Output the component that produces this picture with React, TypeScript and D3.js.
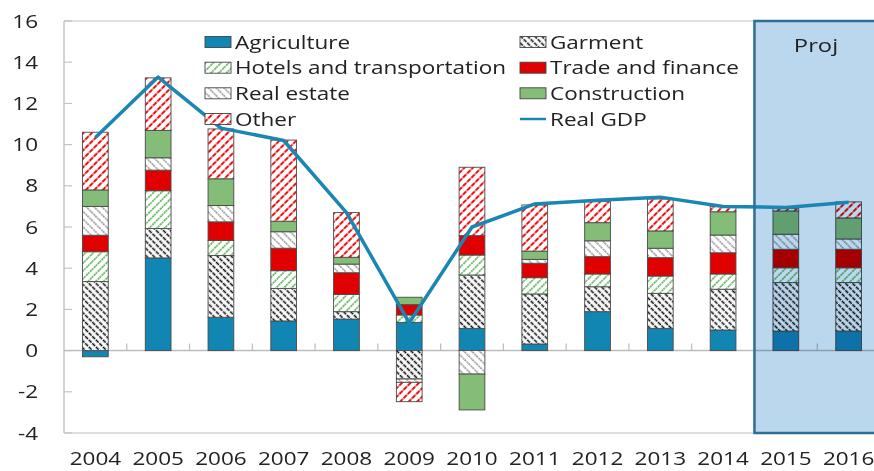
import React from "react";
import * as d3 from "d3";

const years = ["2004","2005","2006","2007","2008","2009","2010","2011","2012","2013","2014","2015","2016"];
const agriculture = [-0.3, 4.5, 1.62, 1.44, 1.53, 1.37, 1.08, 0.32, 1.89, 1.08, 1.0, 0.95, 0.95];
const garment = [3.35, 1.43, 3.0, 1.58, 0.36, -1.38, 2.59, 2.43, 1.21, 1.7, 1.98, 2.35, 2.35];
const hotels = [1.45, 1.83, 0.73, 0.86, 0.84, 0.36, 0.97, 0.79, 0.62, 0.84, 0.74, 0.72, 0.72];
const trade = [0.8, 1.0, 0.9, 1.09, 1.05, 0.5, 0.94, 0.7, 0.84, 0.89, 1.03, 0.9, 0.9];
const realEstate = [1.4, 0.6, 0.79, 0.8, 0.42, -0.16, -1.14, 0.19, 0.77, 0.46, 0.86, 0.73, 0.5];
const construction = [0.8, 1.33, 1.3, 0.51, 0.33, 0.36, -1.74, 0.4, 0.88, 0.84, 1.13, 1.13, 1.02];
const other = [2.8, 2.55, 2.42, 3.94, 2.17, -0.94, 3.32, 2.24, 1.02, 1.55, 0.25, 0.11, 0.78];
const realGDP = [10.35, 13.28, 10.8, 10.2, 6.7, 1.35, 6.0, 7.12, 7.3, 7.45, 7.0, 6.95, 7.2];
const yTicks = [-4, -2, 0, 2, 4, 6, 8, 10, 12, 14, 16];
const projYears = ["2015", "2016"];

const seriesKeys = ["agriculture","garment","hotels","trade","realEstate","construction","other"];
const seriesLabels: Record<string,string> = {
  agriculture: "Agriculture", garment: "Garment", hotels: "Hotels and transportation",
  trade: "Trade and finance", realEstate: "Real estate", construction: "Construction", other: "Other",
};
const seriesValues: Record<string, number[]> = { agriculture, garment, hotels, trade, realEstate, construction, other };

const fills: Record<string,string> = {
  agriculture: "#1286B3", garment: "url(#pGarment)", hotels: "url(#pHotels)", trade: "#E00000",
  realEstate: "url(#pReal)", construction: "#84BD78", other: "url(#pOther)",
};

const W = 874, H = 471;
const X0 = 64, X1 = 880, YT = 21, YB = 433;
const FONT = "'Open Sans', 'Noto Sans', sans-serif";
const SX = 1.25;

function T({ x, y, anchor = "start", size = 18, children, fill = "#222" }: any) {
  return (
    <text transform={`translate(${x},${y}) scale(${SX},1)`} textAnchor={anchor}
      fontFamily={FONT} fontSize={size} fill={fill}>{children}</text>
  );
}

export default function App() {
  const x = d3.scaleBand<string>().domain(years).range([X0, X1]).paddingInner(0.59).paddingOuter(0.295);
  const y = d3.scaleLinear().domain([-4, 16]).range([YB, YT]);
  const table = years.map((yr, i) => {
    const o: any = { year: yr };
    seriesKeys.forEach(k => (o[k] = seriesValues[k][i]));
    return o;
  });
  const stack = d3.stack<any>().keys(seriesKeys).offset(d3.stackOffsetDiverging)(table);
  const line = d3.line<number>()
    .x((_, i) => (x(years[i]) as number) + x.bandwidth() / 2)
    .y(d => y(d));
  const step = x.step();
  const projX = (x(projYears[0]) as number) - (step - x.bandwidth()) / 2;

  const legendRows = [
    ["agriculture", "garment"], ["hotels", "trade"], ["realEstate", "construction"], ["other", "gdp"],
  ];
  const rowY = [42, 67.7, 93.3, 119];
  const colX = [205, 520];

  return (
    <svg width={W} height={H} style={{ position: "absolute", left: 0, top: 0, background: "#fff" }}>
      <defs>
        <pattern id="pGarment" width="5" height="5" patternUnits="userSpaceOnUse" patternTransform="rotate(-45)">
          <rect width="5" height="5" fill="#fff" />
          <line x1="2.5" y1="0" x2="2.5" y2="5" stroke="#111" strokeWidth="1.6" strokeDasharray="2,1" />
        </pattern>
        <pattern id="pHotels" width="5.5" height="5.5" patternUnits="userSpaceOnUse" patternTransform="rotate(45)">
          <rect width="5.5" height="5.5" fill="#fff" />
          <line x1="2.75" y1="0" x2="2.75" y2="5.5" stroke="#4DAE48" strokeWidth="1.5" strokeDasharray="2,1" />
        </pattern>
        <pattern id="pReal" width="5.5" height="5.5" patternUnits="userSpaceOnUse" patternTransform="rotate(-45)">
          <rect width="5.5" height="5.5" fill="#fff" />
          <line x1="2.75" y1="0" x2="2.75" y2="5.5" stroke="#8E8E8E" strokeWidth="1.4" strokeDasharray="2,1" />
        </pattern>
        <pattern id="pOther" width="6" height="6" patternUnits="userSpaceOnUse" patternTransform="rotate(45)">
          <rect width="6" height="6" fill="#fff" />
          <line x1="3" y1="0" x2="3" y2="6" stroke="#F01010" strokeWidth="2" strokeDasharray="2.5,1" />
        </pattern>
      </defs>

      {/* frame */}
      <line x1={X0} y1={YT} x2={X1} y2={YT} stroke="#D4D4D4" strokeWidth={1.5} />
      <line x1={X0} y1={YB} x2={X1} y2={YB} stroke="#D4D4D4" strokeWidth={1.5} />
      <line x1={X0} y1={YT} x2={X0} y2={YB} stroke="#C4C4C4" strokeWidth={1.5} />
      {yTicks.map(t => (
        <line key={t} x1={X0} x2={X0 + 8} y1={y(t)} y2={y(t)} stroke="#C4C4C4" strokeWidth={1.2} />
      ))}
      {yTicks.map(t => (
        <T key={"l" + t} x={38} y={y(t) + 6.5} anchor="end">{t}</T>
      ))}

      {/* zero line and category ticks */}
      <line x1={X0} x2={X1} y1={y(0)} y2={y(0)} stroke="#BDBDBD" strokeWidth={1.5} />
      {years.slice(1).map(yr => {
        const xx = (x(yr) as number) - (step - x.bandwidth()) / 2;
        return <line key={"t" + yr} x1={xx} x2={xx} y1={y(0)} y2={y(0) - 7} stroke="#BDBDBD" strokeWidth={1.2} />;
      })}

      {/* bars */}
      {stack.map(s => (
        <g key={s.key} fill={fills[s.key]}>
          {s.map((d, i) => (
            Math.abs(d[1] - d[0]) > 0 ? (
              <rect key={i} x={x(years[i])} width={x.bandwidth()}
                y={y(Math.max(d[0], d[1]))} height={Math.abs(y(d[0]) - y(d[1]))}
                stroke="#4A4A4A" strokeWidth={0.9} />
            ) : null
          ))}
        </g>
      ))}

      {/* projection overlay */}
      <rect x={projX} y={YT} width={X1 - projX + 10} height={YB - YT}
        fill="#BBD7EE" style={{ mixBlendMode: "multiply" }} />

      {/* GDP line */}
      <path d={line(realGDP) as string} fill="none" stroke="#1A86B3" strokeWidth={3.5} strokeLinejoin="round" />

      <rect x={projX} y={YT} width={X1 - projX + 10} height={YB - YT}
        fill="none" stroke="#2D6E98" strokeWidth={2.5} />
      <T x={816} y={52} anchor="middle" size={19}>Proj</T>

      {/* x labels */}
      {years.map(yr => (
        <T key={"x" + yr} x={(x(yr) as number) + x.bandwidth() / 2} y={465} anchor="middle">{yr}</T>
      ))}

      {/* legend */}
      {legendRows.map((row, ri) => row.map((k, ci) => (
        <g key={k}>
          {k === "gdp" ? (
            <line x1={colX[ci]} x2={colX[ci] + 26} y1={rowY[ri]} y2={rowY[ri]} stroke="#1A86B3" strokeWidth={2.5} />
          ) : (
            <rect x={colX[ci]} y={rowY[ri] - 5.5} width={26} height={11} fill={fills[k]} stroke="#444" strokeWidth={0.9} />
          )}
          <T x={colX[ci] + 30} y={rowY[ri] + 6.5}>{k === "gdp" ? "Real GDP" : seriesLabels[k]}</T>
        </g>
      )))}
    </svg>
  );
}
